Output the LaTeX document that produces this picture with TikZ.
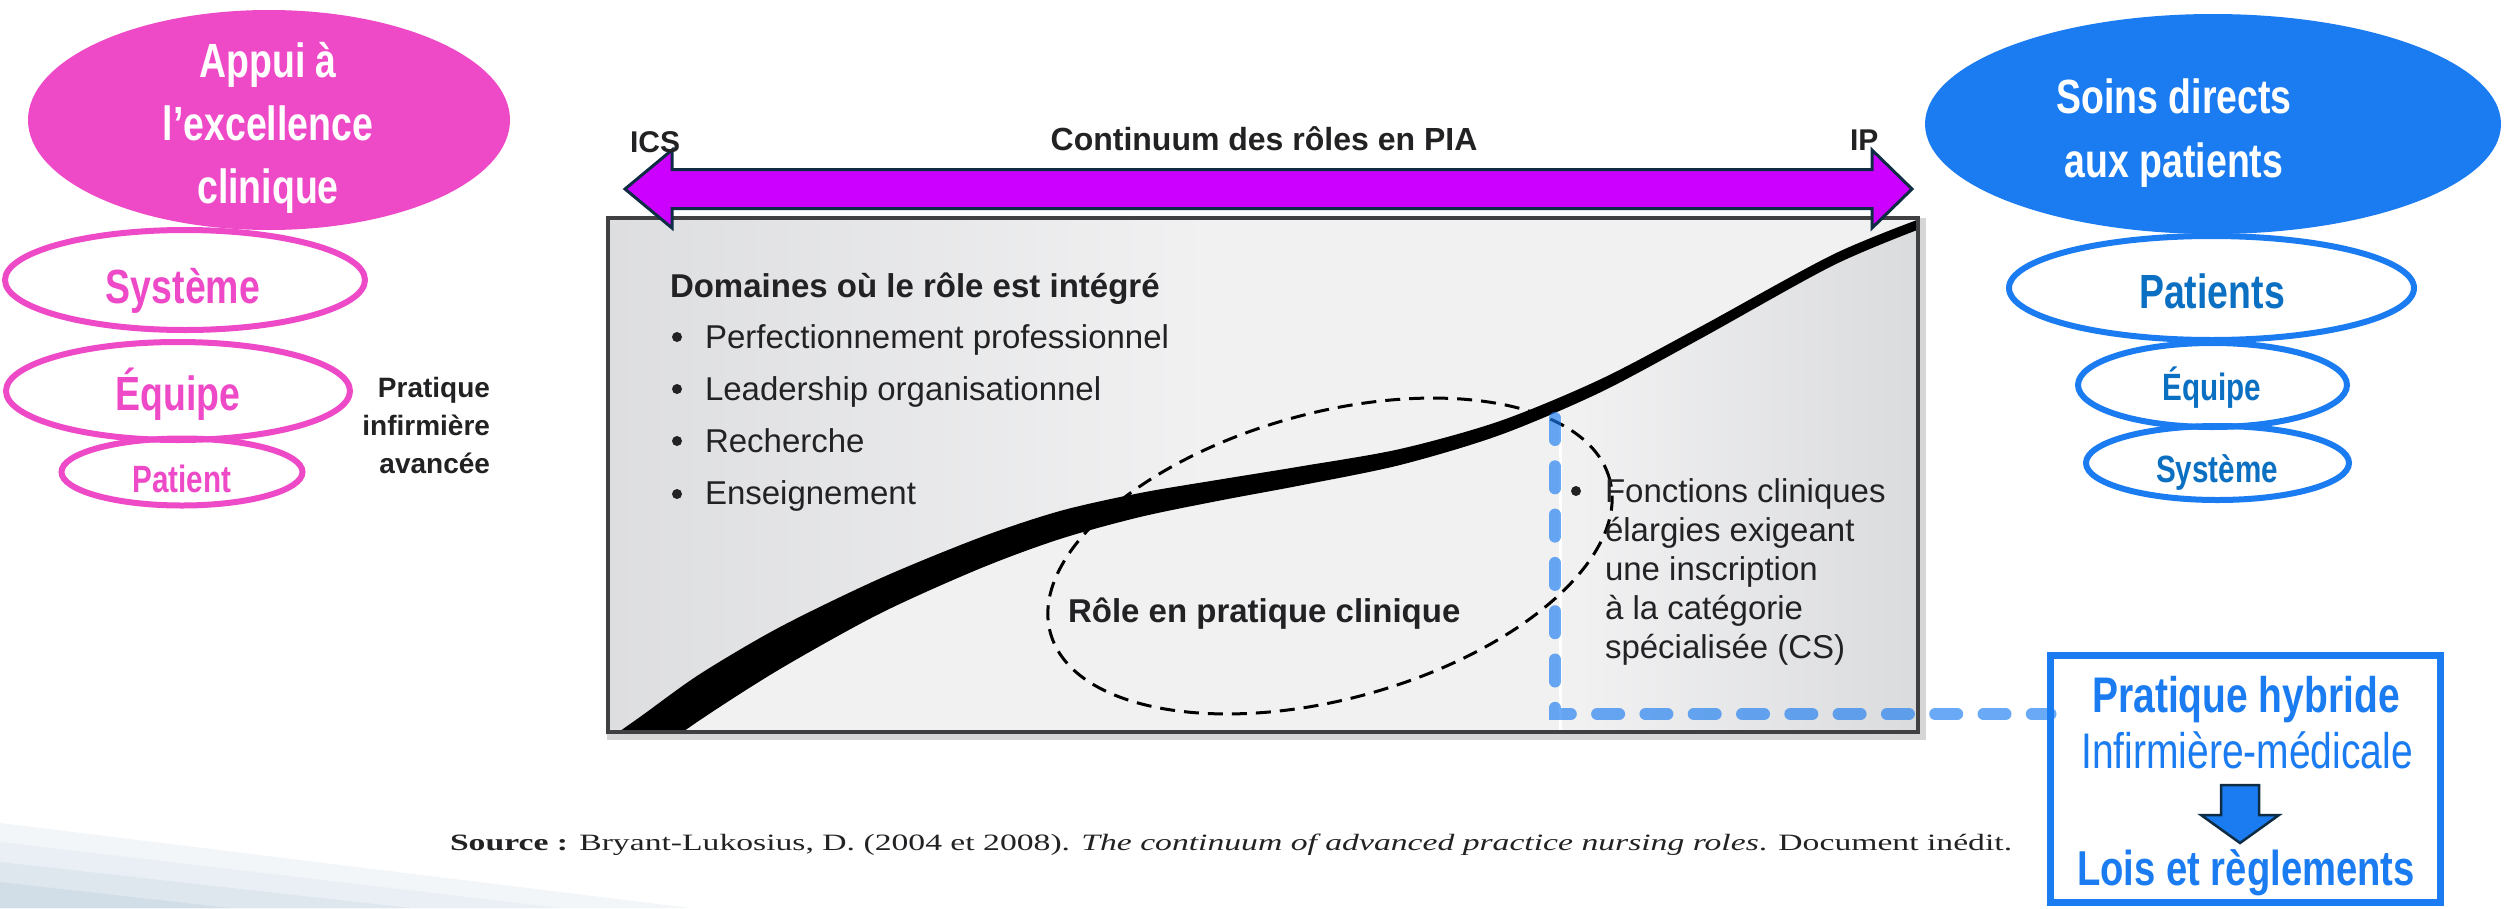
\documentclass[tikz,border=0pt]{standalone}
\usepackage{graphicx}
\usepackage{fontspec}
\setmainfont{Liberation Sans}
\newfontfamily\condensed{Liberation Sans}[FakeStretch=0.78]
\newfontfamily\refserif{Liberation Serif}
\usetikzlibrary{shapes.geometric}

\definecolor{rose}{RGB}{238,74,200}
\definecolor{azure}{RGB}{26,124,240}
\definecolor{azuredeep}{RGB}{12,112,194}
\definecolor{violetbar}{RGB}{204,0,255}
\definecolor{navy}{RGB}{14,45,68}
\definecolor{ink}{RGB}{34,34,36}
\definecolor{panedark}{RGB}{210,211,214}
\definecolor{panelight}{RGB}{241,241,242}
\definecolor{panemid}{RGB}{233,233,235}
\definecolor{frame}{RGB}{64,64,66}
\definecolor{swoosha}{RGB}{243,246,249}
\definecolor{swooshb}{RGB}{233,239,244}
\definecolor{swooshc}{RGB}{222,231,238}
\definecolor{swooshd}{RGB}{210,222,231}

% panel shadings: domains side darkens to the left, clinical side to the right
\pgfdeclarehorizontalshading{domainpane}{100bp}{color(0bp)=(panedark); color(12bp)=(panedark);
  color(48bp)=(panelight); color(100bp)=(panelight)}
\pgfdeclarehorizontalshading{clinicpane}{100bp}{color(0bp)=(panemid); color(30bp)=(panelight);
  color(62bp)=(panelight); color(80bp)=(panedark); color(100bp)=(panedark)}

% stacked lines whose reference point is the baseline of the first line
\newcommand\stackc[2]{\vtop{\baselineskip=#1\lineskiplimit=-100pt\halign{\hfil##\hfil\cr#2\crcr}}}
\newcommand\stackl[2]{\vtop{\baselineskip=#1\lineskiplimit=-100pt\halign{##\hfil\cr#2\crcr}}}
\newcommand\stackr[2]{\vtop{\baselineskip=#1\lineskiplimit=-100pt\halign{\hfil##\cr#2\crcr}}}

% edges of the continuum band
\def\bandupper{(600,745) (640,717) (700,674) (780,627) (880,578.5) (980,537.5) (1060,511)
  (1140,493) (1220,479.5) (1300,466.5) (1400,449) (1500,421) (1600,379.5) (1700,327)
  (1833,254.5) (1925,217)}
\def\bandlower{(1925,227) (1833,265.5) (1700,339) (1600,392.5) (1500,435) (1400,465)
  (1300,485.5) (1220,500.5) (1140,517) (1060,539) (980,568.5) (880,613.5) (780,669)
  (700,720) (640,763)}

\begin{document}
\begin{tikzpicture}[x=1pt,y=-1pt,
  every node/.style={inner sep=0pt, outer sep=0pt},
  solidoval/.style={ellipse, draw=none},
  ringoval/.style={ellipse, draw, line width=6pt},
  headline/.style={font=\condensed\bfseries\fontsize{48}{58}\selectfont, text=white, anchor=base},
  ringbig/.style={font=\condensed\bfseries\fontsize{48}{58}\selectfont, anchor=base},
  ringsmall/.style={font=\condensed\bfseries\fontsize{38}{46}\selectfont, anchor=base},
  figbold/.style={font=\bfseries\fontsize{33}{39}\selectfont, text=ink},
  figplain/.style={font=\fontsize{33}{39}\selectfont, text=ink},
  dot/.style={circle, fill=ink, minimum size=10pt},
  link/.style={draw={rgb,255:red,26;green,124;blue,240}, draw opacity=0.65, line width=12pt,
               line cap=round, dash pattern=on 22pt off 26.3pt},
  zone/.style={ellipse, draw=black, line width=3pt, dash pattern=on 15pt off 9pt}
]
\useasboundingbox (0,0) rectangle (2504,908);
\fill[white] (0,0) rectangle (2504,908);

% soft corner swoosh
\fill[swoosha] (0,823) -- (690,908) -- (0,908) -- cycle;
\fill[swooshb] (0,842) -- (560,908) -- (0,908) -- cycle;
\fill[swooshc] (0,862) -- (410,908) -- (0,908) -- cycle;
\fill[swooshd] (0,882) -- (230,908) -- (0,908) -- cycle;

% ---------- continuum panel ----------
\coordinate (bnw) at (608,218);
\coordinate (bse) at (1918,732);
\draw[line width=8pt, black!16] (611,222) rectangle (1922,736);
\shade[shading=domainpane] (bnw) rectangle (bse);
\begin{scope}
  \clip plot[smooth] coordinates {\bandlower} -- (1935,763) -- (1935,227) -- cycle;
  \shade[shading=clinicpane] (bnw) rectangle (bse);
\end{scope}
\begin{scope}
  \clip (bnw) rectangle (bse);
  \fill[black] plot[smooth] coordinates {\bandupper} -- plot[smooth] coordinates {\bandlower} -- cycle;
  \draw[white, line width=3pt] (1560,418) -- (1560,732);
\end{scope}
\draw[frame, line width=4pt] (bnw) rectangle (bse);

% clinical practice zone
\node[zone, minimum width=580pt, minimum height=286pt, rotate=15.4] (zone) at (1330,556) {};

% ---------- continuum arrow ----------
\coordinate (ltip) at (625,189);
\coordinate (rtip) at (1912,189);
\fill[violetbar, draw=navy, line width=3pt, line join=miter]
  (ltip) -- (672,150) -- (672,169.5) -- (1872,169.5) -- (1872,150) -- (rtip)
  -- (1872,228) -- (1872,208.5) -- (672,208.5) -- (672,228) -- cycle;
\node[figbold, font=\bfseries\fontsize{30}{36}\selectfont, anchor=base west] (ics) at (630,152) {ICS};
\node[figbold, font=\bfseries\fontsize{30}{36}\selectfont, anchor=base west] (ip) at (1850,150) {IP};
\node[figbold, font=\bfseries\fontsize{32}{38}\selectfont, anchor=base] (continuum) at (1264,150) {Continuum des rôles en PIA};

% ---------- panel texts ----------
\node[figbold, font=\bfseries\fontsize{28}{38}\selectfont, anchor=base east] (pia) at (490,397)
  {\stackr{38pt}{Pratique\cr infirmière\cr avancée}};
\node[figbold, anchor=base west] (domaines) at (670,297) {Domaines où le rôle est intégré};
\node[figplain, anchor=base west] (domlist) at (705,348)
  {\stackl{52.3pt}{Perfectionnement professionnel\cr Leadership organisationnel\cr Recherche\cr Enseignement}};
\node[dot] (d1) at (677,337) {};
\node[dot] (d2) at (677,389) {};
\node[dot] (d3) at (677,441) {};
\node[dot] (d4) at (677,494) {};
\node[figplain, anchor=base west] (fonctions) at (1605,502)
  {\stackl{39pt}{Fonctions cliniques\cr élargies exigeant\cr une inscription\cr à la catégorie\cr spécialisée (CS)}};
\node[dot] (d5) at (1576,491) {};
\node[figbold, anchor=base west] (role) at (1068,622) {Rôle en pratique clinique};

% ---------- clinical excellence side ----------
\node[solidoval, fill=rose, minimum width=482pt, minimum height=220pt] (appui) at (269,120) {};
\node[headline] (appuitxt) at (268,77) {\stackc{63pt}{Appui à\cr l’excellence\cr clinique}};
\node[ringoval, draw=rose, minimum width=360pt, minimum height=100pt] (sysL) at (185,280) {};
\node[ringoval, draw=rose, minimum width=344pt, minimum height=98pt] (eqL) at (178,391) {};
\node[ringoval, draw=rose, minimum width=241pt, minimum height=67pt] (patL) at (182,472) {};
\node[ringbig, text=rose] (sysLt) at (183,303) {Système};
\node[ringbig, text=rose] (eqLt) at (178,410) {Équipe};
\node[ringsmall, text=rose] (patLt) at (182,492) {Patient};

% ---------- direct care side ----------
\node[solidoval, fill=azure, minimum width=576pt, minimum height=220pt] (soins) at (2213,124) {};
\node[headline] (soinstxt) at (2174,113) {\stackc{64pt}{Soins directs\cr aux patients}};
\node[ringoval, draw=azure, minimum width=405pt, minimum height=104pt] (patR) at (2211.5,288) {};
\node[ringoval, draw=azure, minimum width=269pt, minimum height=84pt] (eqR) at (2212.5,385) {};
\node[ringoval, draw=azure, minimum width=263pt, minimum height=74pt] (sysR) at (2217.5,463) {};
\node[ringbig, text=azuredeep] (patRt) at (2212,308) {Patients};
\node[ringsmall, text=azuredeep] (eqRt) at (2212,400) {Équipe};
\node[ringsmall, text=azuredeep] (sysRt) at (2217,482) {Système};

% ---------- hybrid practice ----------
\node[draw=azure, line width=7pt, minimum width=390pt, minimum height=247pt] (hybrid) at (2245.5,779) {};
\node[font=\condensed\bfseries\fontsize{50}{60}\selectfont, text=azure, anchor=base] (hyb1) at (2246,712) {Pratique hybride};
\node[font=\condensed\fontsize{50}{60}\selectfont, text=azure, anchor=base] (hyb2) at (2247,768) {Infirmière-médicale};
\node[font=\condensed\bfseries\fontsize{49}{60}\selectfont, text=azure, anchor=base] (hyb3) at (2246,885) {Lois et règlements};
\fill[azure, draw=navy, line width=2.5pt, line join=miter]
  (2221,785) -- (2259,785) -- (2259,815) -- (2279,815) -- (2240,843) -- (2201,815) -- (2221,815) -- cycle;

\coordinate (cstop) at (1555,418);
\coordinate (csturn) at (1555,714);
\draw[link] (cstop) -- (csturn) -- (csturn -| hybrid.west);

% ---------- source line ----------
\node[anchor=base west, text=ink] (source) at (450,850)
  {\resizebox{1562pt}{16.5pt}{\refserif\fontsize{21}{25}\selectfont\textbf{Source :} Bryant-Lukosius, D. (2004 et 2008). \textit{The continuum of advanced practice nursing roles}. Document inédit.}};
\end{tikzpicture}
\end{document}
